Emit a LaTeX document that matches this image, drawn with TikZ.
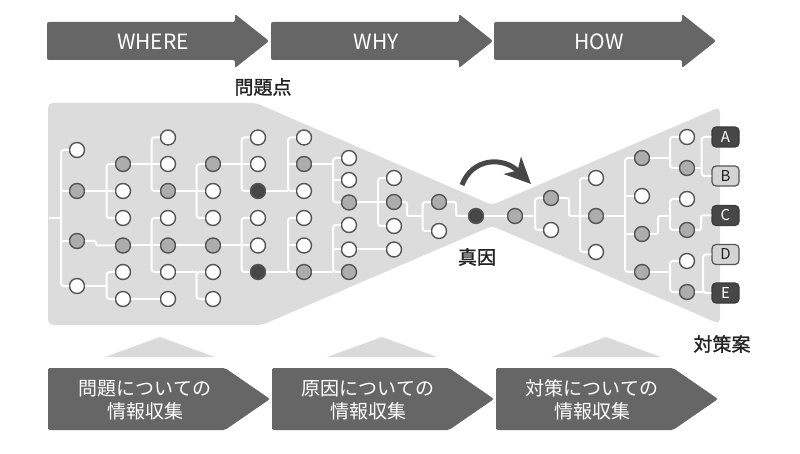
\documentclass[tikz,border=0pt]{standalone}
\usepackage{fontspec}
\setmainfont{Noto Sans CJK JP}
\newfontfamily\jpbold{Noto Sans CJK JP}[FakeBold=1.2]
\usetikzlibrary{arrows.meta}
\definecolor{shp}{HTML}{DCDCDC}
\definecolor{arr}{HTML}{666666}
\definecolor{dk}{HTML}{474747}
\definecolor{gr}{HTML}{ADADAD}
\definecolor{bd}{HTML}{555555}
\definecolor{tri}{HTML}{DADADA}
\definecolor{lt}{HTML}{D4D4D4}
\definecolor{txt}{HTML}{222222}
\tikzset{
 nd/.style={circle, minimum size=15pt, inner sep=0pt, draw=bd, line width=1.4pt},
 wn/.style={nd, fill=white},
 gn/.style={nd, fill=gr},
 kn/.style={nd, fill=dk},
 wl/.style={draw=white, line width=2pt, rounded corners=3pt},
 jg/.style={draw=white, line width=2pt, rounded corners=2pt},
 lab/.style={rounded corners=4pt, minimum width=27pt, minimum height=20pt, inner sep=0pt, line width=1.2pt, font=\fontsize{15}{15}\selectfont},
 labd/.style={lab, fill=dk, draw=bd!70!black, text=white},
 labl/.style={lab, fill=lt, draw=bd, text=txt},
 ttxt/.style={text=white, font=\fontsize{21}{21}\selectfont},
 btxt/.style={text=white, align=center, font=\fontsize{19}{23.5}\selectfont},
 jtxt/.style={text=txt, font=\jpbold\fontsize{19}{19}\selectfont},
}
\newcommand\brk[4]{%
  \draw[wl] (#1) -- (#1 -| #2);
  \draw[wl] (#3) -| (#2 |- #4) -- (#4);
}
\newcommand\midc[2]{\draw[wl] (#1 |- #2) -- (#2);}
\begin{document}
\begin{tikzpicture}[x=1pt,y=-1pt]
\useasboundingbox (0,0) rectangle (800,454);
% ---- top arrows
\foreach \xa in {47,271,494}{
  \fill[arr, rounded corners=2pt] (\xa,22) -- ({\xa+188},22) -- ({\xa+188},14) -- ({\xa+222},41) -- ({\xa+188},68) -- ({\xa+188},60) -- (\xa,60) -- cycle;
}
\node[ttxt] (tw1) at (153,42) {WHERE};
\node[ttxt] (tw2) at (376,42) {WHY};
\node[ttxt] (tw3) at (599,42) {HOW};
\node[jtxt] (pp) at (263,87) {問題点};
% ---- funnel shape
\fill[shp, rounded corners=5pt] (48,103) -- (256,103) -- (492,205) -- (720,107) -- (720,324) -- (492,226) -- (262,325) -- (48,325) -- cycle;
% ---- bottom triangles and pentagons
\foreach \xc in {160,382,606}{
  \fill[tri] ({\xc-55},357) -- (\xc,337) -- ({\xc+55},357) -- cycle;
}
\foreach \xa in {48,272,496}{
  \fill[arr, rounded corners=2pt] (\xa,368) -- ({\xa+177},368) -- ({\xa+222},399) -- ({\xa+177},430) -- (\xa,430) -- cycle;
}
\node[btxt] (q1) at (145,400) {問題についての\\情報収集};
\node[btxt] (q2) at (368,400) {原因についての\\情報収集};
\node[btxt] (q3) at (592,400) {対策についての\\情報収集};
% ---- left tree nodes
\node[wn] (a1) at (77,150) {};
\node[gn] (a2) at (77,191) {};
\node[gn] (a3) at (77,241) {};
\node[wn] (a4) at (77,286) {};
\node[gn] (b1) at (123,164) {};
\node[wn] (b2) at (123,191) {};
\node[wn] (b3) at (123,218) {};
\node[gn] (b4) at (123,245.5) {};
\node[wn] (b5) at (123,272) {};
\node[wn] (b6) at (123,299) {};
\node[wn] (c1) at (168,137.5) {};
\node[wn] (c2) at (168,164) {};
\node[gn] (c3) at (168,191) {};
\node[wn] (c4) at (168,218) {};
\node[gn] (c5) at (168,245.5) {};
\node[wn] (c6) at (168,272) {};
\node[wn] (c7) at (168,299) {};
\node[gn] (d1) at (213,164) {};
\node[wn] (d2) at (213,191) {};
\node[wn] (d3) at (213,218) {};
\node[gn] (d4) at (213,245.5) {};
\node[wn] (d5) at (213,272) {};
\node[wn] (d6) at (213,299) {};
\node[wn] (e1) at (258,137.5) {};
\node[wn] (e2) at (258,164) {};
\node[kn] (e3) at (258,191) {};
\node[wn] (e4) at (258,218) {};
\node[wn] (e5) at (258,245.5) {};
\node[kn] (e6) at (258,272) {};
\node[wn] (f1) at (304,137.5) {};
\node[gn] (f2) at (304,164) {};
\node[wn] (f3) at (304,191) {};
\node[wn] (f4) at (304,218) {};
\node[wn] (f5) at (304,245.5) {};
\node[gn] (f6) at (304,272) {};
\node[wn] (g1) at (349,158) {};
\node[wn] (g2) at (349,180) {};
\node[gn] (g3) at (349,202.5) {};
\node[wn] (g4) at (349,225) {};
\node[wn] (g5) at (349,249.5) {};
\node[gn] (g6) at (349,272) {};
\node[wn] (h1) at (394,178) {};
\node[gn] (h2) at (394,202) {};
\node[wn] (h3) at (394,226) {};
\node[wn] (h4) at (394,249.5) {};
\node[gn] (i1) at (439,202) {};
\node[wn] (i2) at (439,231) {};
\node[kn] (tc) at (476,216) {};
\node[jtxt] (tct) at (477,257) {真因};
% ---- right tree nodes
\node[gn] (ra) at (515,216) {};
\node[gn] (rb1) at (551,198) {};
\node[wn] (rb2) at (551,230) {};
\node[wn] (rc1) at (596,178) {};
\node[gn] (rc2) at (596,216) {};
\node[wn] (rc3) at (596,252) {};
\node[gn] (rd1) at (642,158) {};
\node[wn] (rd2) at (642,196) {};
\node[gn] (rd3) at (642,234) {};
\node[gn] (rd4) at (642,272) {};
\node[wn] (re1) at (687,137) {};
\node[gn] (re2) at (687,168) {};
\node[wn] (re3) at (687,199) {};
\node[gn] (re4) at (687,230) {};
\node[wn] (re5) at (687,261) {};
\node[gn] (re6) at (687,292) {};
\node[labd] (lA) at (725.5,137) {A};
\node[labl] (lB) at (725.5,176) {B};
\node[labd] (lC) at (725.5,215.5) {C};
\node[labl] (lD) at (725.5,254.5) {D};
\node[labd] (lE) at (725.5,293) {E};
\node[jtxt] (cm) at (722,344) {対策案};
% ---- bracket coordinates
\coordinate (rs) at (49,218);
\coordinate (B0) at (61,0);
\coordinate (B1) at (106.5,0);
\coordinate (J1) at (96,0);
\coordinate (B2) at (151.5,0);
\coordinate (B3) at (196.5,0);
\coordinate (B4) at (241.5,0);
\coordinate (B5) at (288,0);
\coordinate (B6) at (333,0);
\coordinate (B7) at (378,0);
\coordinate (J2) at (407,0);
\coordinate (B8) at (422.5,0);
\coordinate (J3) at (456,0);
\coordinate (R1) at (535,0);
\coordinate (J4) at (569,0);
\coordinate (R2) at (580,0);
\coordinate (R3) at (625,0);
\coordinate (R4) at (670,0);
\coordinate (J5) at (658,0);
\coordinate (R5) at (701.5,0);
\coordinate (J6) at (701,0);
\coordinate (R6) at (703,0);
% ---- left connectors
\draw[wl] (rs) -- (rs -| B0);
\draw[wl] (a1) -| (B0 |- a4) -- (a4);
\midc{B0}{a2} \midc{B0}{a3}
\brk{a2}{B1}{b1}{b3} \midc{B1}{b2}
\draw[jg] (a3) -| (J1 |- b4) -- (b4);
\brk{a4}{B1}{b5}{b6}
\brk{b1}{B2}{c1}{c3} \midc{B2}{c2}
\brk{b4}{B2}{c4}{c6} \midc{B2}{c5}
\draw[wl] (b6) -- (c7);
\brk{c3}{B3}{d1}{d3} \midc{B3}{d2}
\draw[wl] (c5) -- (d4);
\brk{c6}{B3}{d5}{d6}
\brk{d1}{B4}{e1}{e3} \midc{B4}{e2}
\brk{d4}{B4}{e4}{e6} \midc{B4}{e5}
\brk{e3}{B5}{f1}{f3} \midc{B5}{f2}
\brk{e6}{B5}{f4}{f6} \midc{B5}{f5}
\brk{f2}{B6}{g1}{g3} \midc{B6}{g2}
\brk{f6}{B6}{g4}{g6} \midc{B6}{g5}
\brk{g3}{B7}{h1}{h3} \midc{B7}{h2}
\draw[wl] (g5) -- (h4);
\draw[jg] (h2) -| (J2 |- tc) -- (tc -| B8);
\draw[wl] (i1) -| (B8 |- i2) -- (i2);
\draw[jg] (i1) -| (J3 |- tc) -- (tc);
% ---- right connectors
\draw[wl] (tc) -- (ra);
\brk{ra}{R1}{rb1}{rb2}
\draw[jg] (rb1) -| (J4 |- rc2) -- (rc2);
\draw[wl] (rc1) -| (R2 |- rc3) -- (rc3);
\brk{rc2}{R3}{rd1}{rd4} \midc{R3}{rd2} \midc{R3}{rd3}
\brk{rd1}{R4}{re1}{re2}
\draw[jg] (rd3) -| (J5 |- tc) -- (tc -| R4);
\draw[wl] (re3) -| (R4 |- re4) -- (re4);
\brk{rd4}{R4}{re5}{re6}
\brk{re2}{R5}{lA}{lB}
\draw[jg] (re4) -| (J6 |- lC) -- (lC);
\brk{re6}{R6}{lD}{lE}
% ---- curved arrow
\coordinate (ca1) at (462,185);
\coordinate (cc1) at (472,158);
\coordinate (cc2) at (503,156);
\coordinate (ca2) at (531,184);
\draw[dk, line width=5pt, -{Stealth[length=26pt,width=24pt,inset=7pt]}] (ca1) .. controls (cc1) and (cc2) .. (ca2);
\end{tikzpicture}
\end{document}
